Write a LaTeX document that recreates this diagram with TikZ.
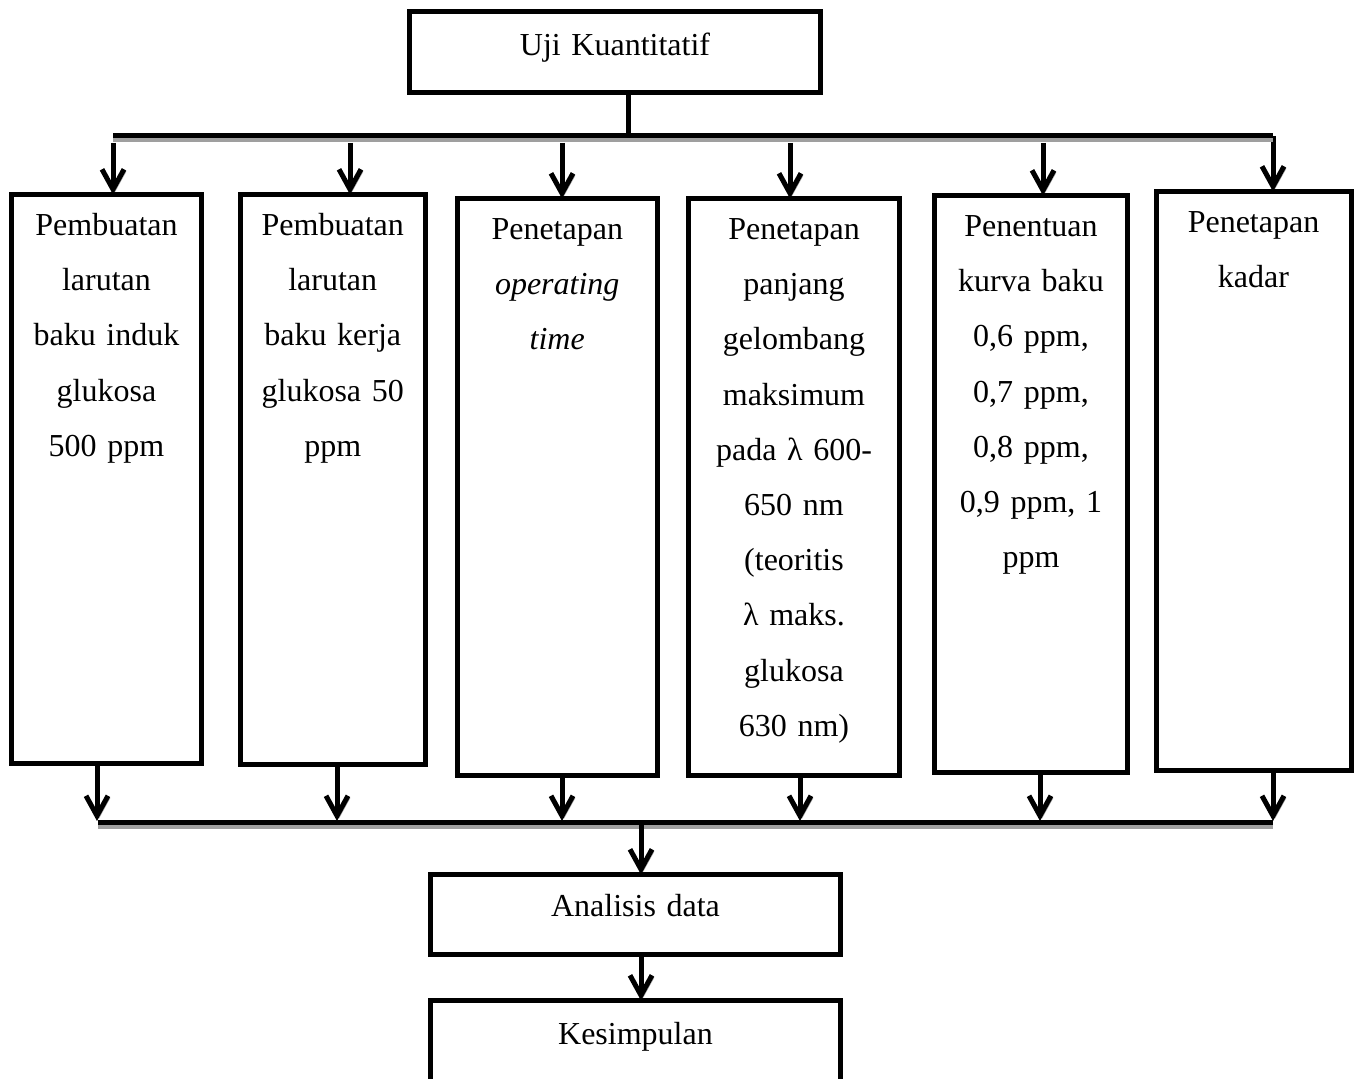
\documentclass[tikz,border=0pt]{standalone}
\usepackage{fontspec}
\setmainfont{Liberation Serif}
\usetikzlibrary{arrows.meta}
\begin{document}
\begin{tikzpicture}[x=0.5pt,y=-0.5pt,
  box/.style={draw, line width=2.5pt, inner sep=0pt, outer sep=0pt, fill=white},
  txt/.style={font=\fontsize{16}{27.6}\selectfont, text width=100pt, align=center, inner sep=0pt, anchor=base},
  arr/.style={line width=2.5pt, -{Straight Barb[length=10pt,width=11pt]},
    preaction={draw=gray!70, transform canvas={shift={(1pt,-1pt)}}}},
  bar/.style={line width=2.5pt},
  shade/.style={line width=2.5pt, draw=gray!75},
  plain/.style={line width=2.5pt},
]
\useasboundingbox (0,0) rectangle (1362,1079);
\clip (0,0) rectangle (1362,1079);
\fill[white] (0,0) rectangle (1362,1079);

% boxes
\node[box, minimum width=205.5pt, minimum height=40.5pt] (top) at (615,52) {};
\node[box, minimum width=95pt, minimum height=284.5pt] (b1) at (106.5,479) {};
\node[box, minimum width=92.75pt, minimum height=285pt] (b2) at (332.75,479.5) {};
\node[box, minimum width=99.75pt, minimum height=288.5pt] (b3) at (557.25,487) {};
\node[box, minimum width=105.5pt, minimum height=288.5pt] (b4) at (794,487) {};
\node[box, minimum width=96.5pt, minimum height=288.75pt] (b5) at (1031,484.25) {};
\node[box, minimum width=97.5pt, minimum height=289.5pt] (b6) at (1253.5,481) {};
\node[box, minimum width=205pt, minimum height=40pt] (an) at (635.5,914.5) {};
\node[box, minimum width=205pt, minimum height=49.75pt] (ke) at (635.5,1050.25) {};

% texts
\node[txt, text width=200pt] (ttop) at ([yshift=-22pt]top.north) {Uji Kuantitatif};
\node[txt] (t1) at ([yshift=-20.5pt]b1.north) {Pembuatan\\larutan\\baku induk\\glukosa\\500 ppm};
\node[txt] (t2) at ([yshift=-20.5pt]b2.north) {Pembuatan\\larutan\\baku kerja\\glukosa 50\\ppm};
\node[txt] (t3) at ([yshift=-20.5pt]b3.north) {Penetapan\\\textit{operating}\\\textit{time}};
\node[txt] (t4) at ([yshift=-20.5pt]b4.north) {Penetapan\\panjang\\gelombang\\maksimum\\pada λ 600-\\650 nm\\(teoritis\\λ maks.\\glukosa\\630 nm)};
\node[txt] (t5) at ([yshift=-20.5pt]b5.north) {Penentuan\\kurva baku\\0,6 ppm,\\0,7 ppm,\\0,8 ppm,\\0,9 ppm, 1\\ppm};
\node[txt] (t6) at ([yshift=-20.5pt]b6.north) {Penetapan\\kadar};
\node[txt, text width=200pt] (tan) at ([yshift=-21pt]an.north) {Analisis data};
\node[txt, text width=200pt] (tke) at ([yshift=-22pt]ke.north) {Kesimpulan};

% top distribution
\coordinate (hub) at (628,136);
\coordinate (tl) at (113,136);
\coordinate (tr) at (1273,136);
\coordinate (u1) at (113,143);
\coordinate (u2) at (350,143);
\coordinate (u3) at (562,143);
\coordinate (u4) at (790,143);
\coordinate (u5) at (1043,143);
\coordinate (u6) at (1273,136);
\draw[arr] (u1) -- (u1 |- b1.north);
\draw[arr] (u2) -- (u2 |- b2.north);
\draw[arr] (u3) -- (u3 |- b3.north);
\draw[arr] (u4) -- (u4 |- b4.north);
\draw[arr] (u5) -- (u5 |- b5.north);
\draw[arr] (u6) -- (u6 |- b6.north);
\draw[shade] ([yshift=-2pt]tl) -- ([yshift=-2pt]tr);
\draw[bar] (tl) -- (tr);
\draw[plain] (hub |- top.south) -- (hub);

% bottom collection
\coordinate (bl) at (98,823);
\coordinate (br) at (1273,823);
\coordinate (d1) at (97,821);
\coordinate (d2) at (337,821);
\coordinate (d3) at (562,821);
\coordinate (d4) at (800,821);
\coordinate (d5) at (1040,821);
\coordinate (d6) at (1273,821);
\coordinate (hub2) at (641,825);
\draw[arr] (d1 |- b1.south) -- (d1);
\draw[arr] (d2 |- b2.south) -- (d2);
\draw[arr] (d3 |- b3.south) -- (d3);
\draw[arr] (d4 |- b4.south) -- (d4);
\draw[arr] (d5 |- b5.south) -- (d5);
\draw[arr] (d6 |- b6.south) -- (d6);
\draw[shade] ([yshift=-2pt]bl) -- ([yshift=-2pt]br);
\draw[bar] (bl) -- (br);
\draw[arr] (hub2) -- (hub2 |- an.north);
\draw[arr] (hub2 |- an.south) -- (hub2 |- ke.north);
\end{tikzpicture}
\end{document}
